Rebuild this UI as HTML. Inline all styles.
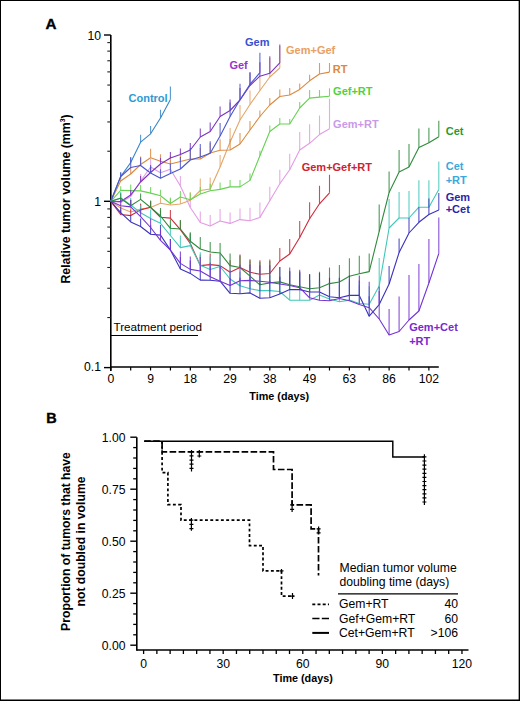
<!DOCTYPE html>
<html><head><meta charset="utf-8"><style>
html,body{margin:0;padding:0;background:#fff;}
body{width:520px;height:701px;overflow:hidden;position:relative;}
.frame{position:absolute;left:0;top:0;width:518px;height:699px;border:1px solid #000;}
svg{position:absolute;left:0;top:0;}
text{font-family:"Liberation Sans",sans-serif;}
</style></head><body>
<div class="frame"></div><div style="position:absolute;left:518px;top:0;width:1px;height:701px;background:#000;opacity:.35"></div><div style="position:absolute;left:0;top:699px;width:520px;height:1px;background:#000;opacity:.5"></div>
<svg width="520" height="701" viewBox="0 0 520 701">
<line x1="110.80" y1="35.00" x2="110.80" y2="371.00" stroke="#000" stroke-width="1.6" />
<line x1="104.00" y1="35.00" x2="110.80" y2="35.00" stroke="#000" stroke-width="1.4" />
<line x1="104.00" y1="201.30" x2="110.80" y2="201.30" stroke="#000" stroke-width="1.4" />
<line x1="104.00" y1="367.60" x2="110.80" y2="367.60" stroke="#000" stroke-width="1.4" />
<line x1="107.30" y1="317.54" x2="110.80" y2="317.54" stroke="#222" stroke-width="1.1" />
<line x1="107.30" y1="288.25" x2="110.80" y2="288.25" stroke="#222" stroke-width="1.1" />
<line x1="107.30" y1="267.48" x2="110.80" y2="267.48" stroke="#222" stroke-width="1.1" />
<line x1="107.30" y1="251.36" x2="110.80" y2="251.36" stroke="#222" stroke-width="1.1" />
<line x1="107.30" y1="238.19" x2="110.80" y2="238.19" stroke="#222" stroke-width="1.1" />
<line x1="107.30" y1="227.06" x2="110.80" y2="227.06" stroke="#222" stroke-width="1.1" />
<line x1="107.30" y1="217.42" x2="110.80" y2="217.42" stroke="#222" stroke-width="1.1" />
<line x1="107.30" y1="208.91" x2="110.80" y2="208.91" stroke="#222" stroke-width="1.1" />
<line x1="107.30" y1="151.24" x2="110.80" y2="151.24" stroke="#222" stroke-width="1.1" />
<line x1="107.30" y1="121.95" x2="110.80" y2="121.95" stroke="#222" stroke-width="1.1" />
<line x1="107.30" y1="101.18" x2="110.80" y2="101.18" stroke="#222" stroke-width="1.1" />
<line x1="107.30" y1="85.06" x2="110.80" y2="85.06" stroke="#222" stroke-width="1.1" />
<line x1="107.30" y1="71.89" x2="110.80" y2="71.89" stroke="#222" stroke-width="1.1" />
<line x1="107.30" y1="60.76" x2="110.80" y2="60.76" stroke="#222" stroke-width="1.1" />
<line x1="107.30" y1="51.12" x2="110.80" y2="51.12" stroke="#222" stroke-width="1.1" />
<line x1="107.30" y1="42.61" x2="110.80" y2="42.61" stroke="#222" stroke-width="1.1" />
<line x1="110.80" y1="367.00" x2="438.80" y2="367.00" stroke="#000" stroke-width="1.6" />
<line x1="110.80" y1="367.00" x2="110.80" y2="370.50" stroke="#000" stroke-width="1.2" />
<line x1="130.68" y1="367.00" x2="130.68" y2="370.50" stroke="#000" stroke-width="1.2" />
<line x1="150.56" y1="367.00" x2="150.56" y2="370.50" stroke="#000" stroke-width="1.2" />
<line x1="170.44" y1="367.00" x2="170.44" y2="370.50" stroke="#000" stroke-width="1.2" />
<line x1="190.32" y1="367.00" x2="190.32" y2="370.50" stroke="#000" stroke-width="1.2" />
<line x1="210.20" y1="367.00" x2="210.20" y2="370.50" stroke="#000" stroke-width="1.2" />
<line x1="230.08" y1="367.00" x2="230.08" y2="370.50" stroke="#000" stroke-width="1.2" />
<line x1="249.96" y1="367.00" x2="249.96" y2="370.50" stroke="#000" stroke-width="1.2" />
<line x1="269.84" y1="367.00" x2="269.84" y2="370.50" stroke="#000" stroke-width="1.2" />
<line x1="289.72" y1="367.00" x2="289.72" y2="370.50" stroke="#000" stroke-width="1.2" />
<line x1="309.60" y1="367.00" x2="309.60" y2="370.50" stroke="#000" stroke-width="1.2" />
<line x1="329.48" y1="367.00" x2="329.48" y2="370.50" stroke="#000" stroke-width="1.2" />
<line x1="349.36" y1="367.00" x2="349.36" y2="370.50" stroke="#000" stroke-width="1.2" />
<line x1="369.24" y1="367.00" x2="369.24" y2="370.50" stroke="#000" stroke-width="1.2" />
<line x1="389.12" y1="367.00" x2="389.12" y2="370.50" stroke="#000" stroke-width="1.2" />
<line x1="409.00" y1="367.00" x2="409.00" y2="370.50" stroke="#000" stroke-width="1.2" />
<line x1="428.88" y1="367.00" x2="428.88" y2="370.50" stroke="#000" stroke-width="1.2" />
<text x="110.80" y="383.00" font-size="12.2" text-anchor="middle" font-weight="normal" fill="#000" >0</text>
<text x="150.56" y="383.00" font-size="12.2" text-anchor="middle" font-weight="normal" fill="#000" >9</text>
<text x="190.32" y="383.00" font-size="12.2" text-anchor="middle" font-weight="normal" fill="#000" >18</text>
<text x="230.08" y="383.00" font-size="12.2" text-anchor="middle" font-weight="normal" fill="#000" >29</text>
<text x="269.84" y="383.00" font-size="12.2" text-anchor="middle" font-weight="normal" fill="#000" >38</text>
<text x="309.60" y="383.00" font-size="12.2" text-anchor="middle" font-weight="normal" fill="#000" >49</text>
<text x="349.36" y="383.00" font-size="12.2" text-anchor="middle" font-weight="normal" fill="#000" >63</text>
<text x="389.12" y="383.00" font-size="12.2" text-anchor="middle" font-weight="normal" fill="#000" >86</text>
<text x="428.88" y="383.00" font-size="12.2" text-anchor="middle" font-weight="normal" fill="#000" >102</text>
<text x="101.00" y="39.80" font-size="12.2" text-anchor="end" font-weight="normal" fill="#000" >10</text>
<text x="101.00" y="205.50" font-size="12.2" text-anchor="end" font-weight="normal" fill="#000" >1</text>
<text x="101.00" y="371.00" font-size="12.2" text-anchor="end" font-weight="normal" fill="#000" >0.1</text>
<text x="45.40" y="28.90" font-size="15.2" text-anchor="start" font-weight="bold" fill="#000" stroke="#000" stroke-width="0.4">A</text>
<text x="279.20" y="399.90" font-size="10.8" text-anchor="middle" font-weight="bold" fill="#000" >Time (days)</text>
<text x="0.00" y="0.00" font-size="12.3" text-anchor="middle" font-weight="bold" fill="#000" transform="translate(70.0,199) rotate(-90)">Relative tumor volume (mm<tspan dy="-5.5" font-size="6.8">3</tspan><tspan dy="5.5">)</tspan></text>
<text x="113.50" y="331.00" font-size="11.7" text-anchor="start" font-weight="normal" fill="#000" >Treatment period</text>
<line x1="110.80" y1="335.50" x2="198.00" y2="335.50" stroke="#000" stroke-width="1.2" />
<polyline points="110.8,201.3 120.7,202.5 130.7,196.5 140.6,181.0 150.6,167.0 160.5,172.7 170.4,169.2 180.4,186.0 190.3,207.5 200.3,222.5 210.2,226.0 220.1,221.0 230.1,223.4 240.0,219.6 250.0,220.8 259.9,217.4 269.8,200.8 279.8,183.8 289.7,169.8 299.7,150.0 309.6,143.3 319.5,134.6 329.5,128.8" fill="none" stroke="#e39be3" stroke-width="1.1" stroke-linejoin="round"/>
<path d="M120.7 202.5V198.5 M130.7 196.5V190.5 M140.6 181.0V174.0 M150.6 167.0V159.0 M160.5 172.7V164.7 M170.4 169.2V160.2 M180.4 186.0V176.0 M190.3 207.5V197.5 M200.3 222.5V211.5 M210.2 226.0V215.0 M220.1 221.0V209.0 M230.1 223.4V212.4 M240.0 219.6V208.6 M250.0 220.8V207.8 M259.9 217.4V202.4 M269.8 200.8V186.8 M279.8 183.8V169.8 M289.7 169.8V153.8 M299.7 150.0V132.0 M309.6 143.3V124.3 M319.5 134.6V115.6 M329.5 128.8V98.8" stroke="#e39be3" stroke-width="1.1" fill="none" opacity="0.85"/>
<polyline points="110.8,201.3 120.7,208.0 130.7,212.0 140.6,209.0 150.6,207.5 160.5,203.3 170.4,205.0 180.4,204.0 190.3,200.3 200.3,190.5 210.2,189.0 220.1,167.0 230.1,142.0 240.0,120.0 250.0,104.5 259.9,90.5 269.8,77.0 279.8,68.0" fill="none" stroke="#e3a66a" stroke-width="1.1" stroke-linejoin="round"/>
<path d="M120.7 208.0V204.0 M130.7 212.0V207.0 M140.6 209.0V203.0 M150.6 207.5V201.5 M160.5 203.3V197.3 M170.4 205.0V199.0 M180.4 204.0V197.0 M190.3 200.3V192.3 M200.3 190.5V178.5 M210.2 189.0V177.5 M220.1 167.0V155.0 M230.1 142.0V128.0 M240.0 120.0V105.0 M250.0 104.5V90.5 M259.9 90.5V76.5 M269.8 77.0V58.0 M279.8 68.0V46.0" stroke="#e3a66a" stroke-width="1.1" fill="none" opacity="0.85"/>
<polyline points="110.8,201.3 120.7,181.0 130.7,174.0 140.6,164.5 150.6,157.8 160.5,161.3 170.4,164.0 180.4,161.5 190.3,159.0 200.3,159.0 210.2,153.0 220.1,150.3 230.1,150.0 240.0,144.0 250.0,130.0 259.9,116.5 269.8,105.0 279.8,96.5 289.7,95.0 299.7,89.4 309.6,80.8 319.5,74.0 329.5,72.1" fill="none" stroke="#d98a40" stroke-width="1.1" stroke-linejoin="round"/>
<path d="M120.7 181.0V177.0 M130.7 174.0V168.0 M140.6 164.5V156.5 M150.6 157.8V148.8 M160.5 161.3V154.3 M170.4 164.0V156.0 M180.4 161.5V152.5 M190.3 159.0V149.0 M200.3 159.0V148.0 M210.2 153.0V143.0 M220.1 150.3V139.3 M230.1 150.0V139.0 M240.0 144.0V133.0 M250.0 130.0V121.0 M259.9 116.5V110.5 M269.8 105.0V98.0 M279.8 96.5V89.5 M289.7 95.0V88.0 M299.7 89.4V83.4 M309.6 80.8V74.8 M319.5 74.0V63.0 M329.5 72.1V63.1" stroke="#d98a40" stroke-width="1.1" fill="none" opacity="0.85"/>
<polyline points="110.8,201.3 120.7,190.3 130.7,190.6 140.6,190.9 150.6,193.1 160.5,195.7 170.4,203.5 180.4,197.0 190.3,199.7 200.3,194.0 210.2,190.7 220.1,189.4 230.1,186.9 240.0,186.9 250.0,180.4 259.9,155.7 269.8,131.5 279.8,124.0 289.7,124.0 299.7,108.0 309.6,98.1 319.5,97.1 329.5,96.2" fill="none" stroke="#66d252" stroke-width="1.1" stroke-linejoin="round"/>
<path d="M120.7 190.3V186.3 M130.7 190.6V184.6 M140.6 190.9V184.9 M150.6 193.1V187.1 M160.5 195.7V189.7 M170.4 203.5V197.5 M180.4 197.0V191.0 M190.3 199.7V192.7 M200.3 194.0V187.0 M210.2 190.7V183.7 M220.1 189.4V182.4 M230.1 186.9V179.9 M240.0 186.9V179.9 M250.0 180.4V173.4 M259.9 155.7V150.7 M269.8 131.5V125.5 M279.8 124.0V118.0 M289.7 124.0V119.0 M299.7 108.0V102.0 M309.6 98.1V90.1 M319.5 97.1V90.1 M329.5 96.2V88.2" stroke="#66d252" stroke-width="1.1" fill="none" opacity="0.85"/>
<polyline points="110.8,201.3 120.7,176.5 130.7,162.6 140.6,142.2 150.6,133.8 160.5,118.0 170.4,99.5" fill="none" stroke="#3a86c6" stroke-width="1.1" stroke-linejoin="round"/>
<path d="M120.7 176.5V172.2 M130.7 162.6V157.0 M140.6 142.2V134.7 M150.6 133.8V126.0 M160.5 118.0V109.7 M170.4 99.5V86.5" stroke="#3a86c6" stroke-width="1.1" fill="none" opacity="0.85"/>
<polyline points="110.8,201.3 120.7,201.5 130.7,195.0 140.6,182.0 150.6,172.5 160.5,164.0 170.4,158.0 180.4,154.5 190.3,150.0 200.3,137.0 210.2,131.5 220.1,116.5 230.1,110.5 240.0,100.0 250.0,85.5 259.9,76.2 269.8,73.3 279.8,62.9" fill="none" stroke="#7a32bf" stroke-width="1.1" stroke-linejoin="round"/>
<path d="M120.7 201.5V197.5 M130.7 195.0V190.0 M140.6 182.0V176.0 M150.6 172.5V166.5 M160.5 164.0V158.0 M170.4 158.0V152.0 M180.4 154.5V148.5 M190.3 150.0V143.0 M200.3 137.0V128.5 M210.2 131.5V122.5 M220.1 116.5V106.5 M230.1 110.5V99.5 M240.0 100.0V88.0 M250.0 85.5V72.5 M259.9 76.2V62.2 M269.8 73.3V56.3 M279.8 62.9V44.4" stroke="#7a32bf" stroke-width="1.1" fill="none" opacity="0.85"/>
<polyline points="110.8,201.3 120.7,176.5 130.7,167.5 140.6,165.5 150.6,173.0 160.5,178.3 170.4,173.5 180.4,169.0 190.3,160.0 200.3,157.0 210.2,153.3 220.1,136.0 230.1,116.5 240.0,99.8 250.0,84.2 259.9,72.7" fill="none" stroke="#4a54cc" stroke-width="1.1" stroke-linejoin="round"/>
<path d="M120.7 176.5V172.5 M130.7 167.5V157.5 M140.6 165.5V157.5 M150.6 173.0V165.0 M160.5 178.3V169.3 M170.4 173.5V163.5 M180.4 169.0V157.0 M190.3 160.0V148.0 M200.3 157.0V144.0 M210.2 153.3V141.3 M220.1 136.0V123.0 M230.1 116.5V102.5 M240.0 99.8V83.8 M250.0 84.2V72.2 M259.9 72.7V52.7" stroke="#4a54cc" stroke-width="1.1" fill="none" opacity="0.85"/>
<polyline points="110.8,201.3 120.7,214.5 130.7,215.6 140.6,209.9 150.6,207.3 160.5,217.3 170.4,218.1 180.4,229.6 190.3,243.5 200.3,265.6 210.2,264.6 220.1,265.6 230.1,272.3 240.0,267.5 250.0,272.3 259.9,274.2 269.8,273.5 279.8,261.0 289.7,254.0 299.7,237.5 309.6,218.7 319.5,203.8 329.5,192.8" fill="none" stroke="#cc2a3c" stroke-width="1.1" stroke-linejoin="round"/>
<path d="M120.7 214.5V209.5 M130.7 215.6V209.6 M140.6 209.9V203.9 M150.6 207.3V201.3 M160.5 217.3V210.3 M170.4 218.1V210.1 M180.4 229.6V220.6 M190.3 243.5V233.5 M200.3 265.6V254.6 M210.2 264.6V253.6 M220.1 265.6V253.6 M230.1 272.3V260.3 M240.0 267.5V254.5 M250.0 272.3V259.3 M259.9 274.2V260.2 M269.8 273.5V259.5 M279.8 261.0V248.0 M289.7 254.0V239.0 M299.7 237.5V221.0 M309.6 218.7V202.2 M319.5 203.8V185.8 M329.5 192.8V174.8" stroke="#cc2a3c" stroke-width="1.1" fill="none" opacity="0.85"/>
<polyline points="110.8,201.3 120.7,198.0 130.7,205.0 140.6,212.7 150.6,218.4 160.5,223.3 170.4,235.5 180.4,247.6 190.3,245.6 200.3,265.2 210.2,269.5 220.1,266.5 230.1,279.0 240.0,285.8 250.0,288.7 259.9,290.6 269.8,290.6 279.8,291.5 289.7,300.2 299.7,300.2 309.6,300.2 319.5,295.0 329.5,299.0 339.4,301.8 349.4,300.1 359.3,303.5 369.2,304.3 379.2,286.0 389.1,228.0 399.1,218.0 409.0,218.0 418.9,207.2 428.9,207.2 438.8,189.6" fill="none" stroke="#40c8b8" stroke-width="1.1" stroke-linejoin="round"/>
<path d="M120.7 198.0V192.0 M130.7 205.0V198.0 M140.6 212.7V204.7 M150.6 218.4V209.4 M160.5 223.3V213.3 M170.4 235.5V224.5 M180.4 247.6V235.6 M190.3 245.6V233.6 M200.3 265.2V252.2 M210.2 269.5V256.5 M220.1 266.5V253.5 M230.1 279.0V265.0 M240.0 285.8V271.8 M250.0 288.7V273.7 M259.9 290.6V275.6 M269.8 290.6V275.6 M279.8 291.5V276.5 M289.7 300.2V285.2 M299.7 300.2V284.2 M309.6 300.2V284.2 M319.5 295.0V279.0 M329.5 299.0V282.0 M339.4 301.8V284.8 M349.4 300.1V282.1 M359.3 303.5V285.5 M369.2 304.3V286.3 M379.2 286.0V258.0 M389.1 228.0V199.0 M399.1 218.0V192.0 M409.0 218.0V191.0 M418.9 207.2V180.2 M428.9 207.2V180.2 M438.8 189.6V161.6" stroke="#40c8b8" stroke-width="1.1" fill="none" opacity="0.85"/>
<polyline points="110.8,201.3 120.7,198.3 130.7,205.8 140.6,199.4 150.6,207.5 160.5,216.0 170.4,228.3 180.4,229.0 190.3,241.3 200.3,249.0 210.2,252.0 220.1,253.0 230.1,265.6 240.0,267.5 250.0,276.2 259.9,284.8 269.8,282.9 279.8,281.9 289.7,284.8 299.7,286.7 309.6,288.7 319.5,287.7 329.5,283.6 339.4,282.0 349.4,276.2 359.3,273.8 369.2,271.6 379.2,231.4 389.1,192.5 399.1,171.9 409.0,167.0 418.9,147.6 428.9,142.8 438.8,136.7" fill="none" stroke="#2f8a3c" stroke-width="1.1" stroke-linejoin="round"/>
<path d="M120.7 198.3V193.3 M130.7 205.8V199.8 M140.6 199.4V193.4 M150.6 207.5V200.5 M160.5 216.0V208.0 M170.4 228.3V219.3 M180.4 229.0V220.0 M190.3 241.3V232.3 M200.3 249.0V237.0 M210.2 252.0V242.0 M220.1 253.0V243.0 M230.1 265.6V253.6 M240.0 267.5V255.5 M250.0 276.2V260.2 M259.9 284.8V261.8 M269.8 282.9V260.9 M279.8 281.9V266.9 M289.7 284.8V270.8 M299.7 286.7V272.7 M309.6 288.7V274.7 M319.5 287.7V271.7 M329.5 283.6V267.6 M339.4 282.0V265.0 M349.4 276.2V258.2 M359.3 273.8V255.8 M369.2 271.6V253.6 M379.2 231.4V204.4 M389.1 192.5V171.5 M399.1 171.9V149.9 M409.0 167.0V144.0 M418.9 147.6V128.6 M428.9 142.8V127.8 M438.8 136.7V120.7" stroke="#2f8a3c" stroke-width="1.1" fill="none" opacity="0.85"/>
<polyline points="110.8,201.3 120.7,212.7 130.7,221.9 140.6,226.5 150.6,234.3 160.5,235.1 170.4,250.0 180.4,268.9 190.3,273.4 200.3,280.1 210.2,280.2 220.1,281.2 230.1,293.3 240.0,293.7 250.0,292.9 259.9,298.2 269.8,297.7 279.8,294.0 289.7,289.6 299.7,289.6 309.6,292.0 319.5,292.0 329.5,296.8 339.4,297.7 349.4,295.4 359.3,295.4 369.2,316.2 379.2,304.6 389.1,284.0 399.1,252.5 409.0,233.0 418.9,222.3 428.9,214.5 438.8,210.0" fill="none" stroke="#3a32bc" stroke-width="1.1" stroke-linejoin="round"/>
<path d="M120.7 212.7V206.7 M130.7 221.9V214.9 M140.6 226.5V218.5 M150.6 234.3V225.3 M160.5 235.1V225.1 M170.4 250.0V239.0 M180.4 268.9V256.9 M190.3 273.4V260.4 M200.3 280.1V266.1 M210.2 280.2V266.2 M220.1 281.2V266.2 M230.1 293.3V278.3 M240.0 293.7V277.7 M250.0 292.9V276.9 M259.9 298.2V282.2 M269.8 297.7V280.7 M279.8 294.0V277.0 M289.7 289.6V271.6 M299.7 289.6V271.6 M309.6 292.0V274.0 M319.5 292.0V273.0 M329.5 296.8V277.8 M339.4 297.7V277.7 M349.4 295.4V275.4 M359.3 295.4V275.4 M369.2 316.2V296.2 M379.2 304.6V286.6 M389.1 284.0V266.0 M399.1 252.5V238.5 M409.0 233.0V218.0 M418.9 222.3V207.3 M428.9 214.5V198.5 M438.8 210.0V193.0" stroke="#3a32bc" stroke-width="1.1" fill="none" opacity="0.85"/>
<polyline points="110.8,201.3 120.7,205.8 130.7,206.9 140.6,216.7 150.6,227.5 160.5,240.3 170.4,250.0 180.4,263.4 190.3,269.4 200.3,271.0 210.2,276.8 220.1,281.3 230.1,285.5 240.0,280.8 250.0,280.4 259.9,281.3 269.8,282.3 279.8,284.0 289.7,285.5 299.7,287.7 309.6,297.8 319.5,300.2 329.5,300.7 339.4,298.5 349.4,300.8 359.3,304.6 369.2,307.7 379.2,319.0 389.1,335.0 399.1,331.5 409.0,320.0 418.9,311.0 428.9,283.0 438.8,253.5" fill="none" stroke="#7434d0" stroke-width="1.1" stroke-linejoin="round"/>
<path d="M120.7 205.8V199.8 M130.7 206.9V199.9 M140.6 216.7V208.7 M150.6 227.5V218.5 M160.5 240.3V230.3 M170.4 250.0V239.0 M180.4 263.4V251.4 M190.3 269.4V256.4 M200.3 271.0V257.0 M210.2 276.8V262.8 M220.1 281.3V266.3 M230.1 285.5V270.5 M240.0 280.8V264.8 M250.0 280.4V264.4 M259.9 281.3V265.3 M269.8 282.3V265.3 M279.8 284.0V267.0 M289.7 285.5V267.5 M299.7 287.7V269.7 M309.6 297.8V279.8 M319.5 300.2V281.2 M329.5 300.7V281.7 M339.4 298.5V278.5 M349.4 300.8V278.8 M359.3 304.6V280.6 M369.2 307.7V281.7 M379.2 319.0V291.0 M389.1 335.0V309.0 M399.1 331.5V296.5 M409.0 320.0V275.0 M418.9 311.0V264.0 M428.9 283.0V239.0 M438.8 253.5V217.5" stroke="#7434d0" stroke-width="1.1" fill="none" opacity="0.85"/>
<text x="128.50" y="101.70" font-size="11" text-anchor="start" font-weight="bold" fill="#2b9ad3" >Control</text>
<text x="245.00" y="45.80" font-size="11" text-anchor="start" font-weight="bold" fill="#3a4fcf" >Gem</text>
<text x="286.00" y="53.70" font-size="11" text-anchor="start" font-weight="bold" fill="#e9a062" >Gem+Gef</text>
<text x="229.40" y="69.00" font-size="11" text-anchor="start" font-weight="bold" fill="#9a33cc" >Gef</text>
<text x="332.70" y="72.60" font-size="11" text-anchor="start" font-weight="bold" fill="#df8835" >RT</text>
<text x="333.10" y="94.60" font-size="11" text-anchor="start" font-weight="bold" fill="#4fd23a" >Gef+RT</text>
<text x="333.10" y="127.50" font-size="11" text-anchor="start" font-weight="bold" fill="#c89ae8" >Gem+RT</text>
<text x="301.70" y="171.30" font-size="11" text-anchor="start" font-weight="bold" fill="#cf2230" >Gem+Gef+RT</text>
<text x="445.70" y="135.40" font-size="11" text-anchor="start" font-weight="bold" fill="#2a9a30" >Cet</text>
<text x="445.70" y="169.60" font-size="11" text-anchor="start" font-weight="bold" fill="#3aa8dc" >Cet</text>
<text x="445.70" y="183.50" font-size="11" text-anchor="start" font-weight="bold" fill="#3aa8dc" >+RT</text>
<text x="445.70" y="201.30" font-size="11" text-anchor="start" font-weight="bold" fill="#2a25aa" >Gem</text>
<text x="445.70" y="213.00" font-size="11" text-anchor="start" font-weight="bold" fill="#2a25aa" >+Cet</text>
<text x="409.20" y="331.30" font-size="11" text-anchor="start" font-weight="bold" fill="#7a28cf" >Gem+Cet</text>
<text x="409.20" y="345.40" font-size="11" text-anchor="start" font-weight="bold" fill="#7a28cf" >+RT</text>
<line x1="136.80" y1="437.20" x2="136.80" y2="650.80" stroke="#000" stroke-width="1.6" />
<line x1="130.30" y1="645.20" x2="136.80" y2="645.20" stroke="#000" stroke-width="1.4" />
<line x1="133.20" y1="634.80" x2="136.80" y2="634.80" stroke="#000" stroke-width="1.3" />
<line x1="133.20" y1="624.40" x2="136.80" y2="624.40" stroke="#000" stroke-width="1.3" />
<line x1="133.20" y1="614.00" x2="136.80" y2="614.00" stroke="#000" stroke-width="1.3" />
<line x1="133.20" y1="603.60" x2="136.80" y2="603.60" stroke="#000" stroke-width="1.3" />
<line x1="130.30" y1="593.20" x2="136.80" y2="593.20" stroke="#000" stroke-width="1.4" />
<line x1="133.20" y1="582.80" x2="136.80" y2="582.80" stroke="#000" stroke-width="1.3" />
<line x1="133.20" y1="572.40" x2="136.80" y2="572.40" stroke="#000" stroke-width="1.3" />
<line x1="133.20" y1="562.00" x2="136.80" y2="562.00" stroke="#000" stroke-width="1.3" />
<line x1="133.20" y1="551.60" x2="136.80" y2="551.60" stroke="#000" stroke-width="1.3" />
<line x1="130.30" y1="541.20" x2="136.80" y2="541.20" stroke="#000" stroke-width="1.4" />
<line x1="133.20" y1="530.80" x2="136.80" y2="530.80" stroke="#000" stroke-width="1.3" />
<line x1="133.20" y1="520.40" x2="136.80" y2="520.40" stroke="#000" stroke-width="1.3" />
<line x1="133.20" y1="510.00" x2="136.80" y2="510.00" stroke="#000" stroke-width="1.3" />
<line x1="133.20" y1="499.60" x2="136.80" y2="499.60" stroke="#000" stroke-width="1.3" />
<line x1="130.30" y1="489.20" x2="136.80" y2="489.20" stroke="#000" stroke-width="1.4" />
<line x1="133.20" y1="478.80" x2="136.80" y2="478.80" stroke="#000" stroke-width="1.3" />
<line x1="133.20" y1="468.40" x2="136.80" y2="468.40" stroke="#000" stroke-width="1.3" />
<line x1="133.20" y1="458.00" x2="136.80" y2="458.00" stroke="#000" stroke-width="1.3" />
<line x1="133.20" y1="447.60" x2="136.80" y2="447.60" stroke="#000" stroke-width="1.3" />
<line x1="130.30" y1="437.20" x2="136.80" y2="437.20" stroke="#000" stroke-width="1.4" />
<line x1="136.80" y1="650.00" x2="468.50" y2="650.00" stroke="#000" stroke-width="1.6" />
<line x1="143.60" y1="650.00" x2="143.60" y2="654.00" stroke="#000" stroke-width="1.3" />
<line x1="156.87" y1="650.00" x2="156.87" y2="654.00" stroke="#000" stroke-width="1.3" />
<line x1="170.13" y1="650.00" x2="170.13" y2="654.00" stroke="#000" stroke-width="1.3" />
<line x1="183.39" y1="650.00" x2="183.39" y2="654.00" stroke="#000" stroke-width="1.3" />
<line x1="196.66" y1="650.00" x2="196.66" y2="654.00" stroke="#000" stroke-width="1.3" />
<line x1="209.93" y1="650.00" x2="209.93" y2="654.00" stroke="#000" stroke-width="1.3" />
<line x1="223.19" y1="650.00" x2="223.19" y2="654.00" stroke="#000" stroke-width="1.3" />
<line x1="236.45" y1="650.00" x2="236.45" y2="654.00" stroke="#000" stroke-width="1.3" />
<line x1="249.72" y1="650.00" x2="249.72" y2="654.00" stroke="#000" stroke-width="1.3" />
<line x1="262.99" y1="650.00" x2="262.99" y2="654.00" stroke="#000" stroke-width="1.3" />
<line x1="276.25" y1="650.00" x2="276.25" y2="654.00" stroke="#000" stroke-width="1.3" />
<line x1="289.51" y1="650.00" x2="289.51" y2="654.00" stroke="#000" stroke-width="1.3" />
<line x1="302.78" y1="650.00" x2="302.78" y2="654.00" stroke="#000" stroke-width="1.3" />
<line x1="316.04" y1="650.00" x2="316.04" y2="654.00" stroke="#000" stroke-width="1.3" />
<line x1="329.31" y1="650.00" x2="329.31" y2="654.00" stroke="#000" stroke-width="1.3" />
<line x1="342.57" y1="650.00" x2="342.57" y2="654.00" stroke="#000" stroke-width="1.3" />
<line x1="355.84" y1="650.00" x2="355.84" y2="654.00" stroke="#000" stroke-width="1.3" />
<line x1="369.11" y1="650.00" x2="369.11" y2="654.00" stroke="#000" stroke-width="1.3" />
<line x1="382.37" y1="650.00" x2="382.37" y2="654.00" stroke="#000" stroke-width="1.3" />
<line x1="395.63" y1="650.00" x2="395.63" y2="654.00" stroke="#000" stroke-width="1.3" />
<line x1="408.90" y1="650.00" x2="408.90" y2="654.00" stroke="#000" stroke-width="1.3" />
<line x1="422.16" y1="650.00" x2="422.16" y2="654.00" stroke="#000" stroke-width="1.3" />
<line x1="435.43" y1="650.00" x2="435.43" y2="654.00" stroke="#000" stroke-width="1.3" />
<line x1="448.70" y1="650.00" x2="448.70" y2="654.00" stroke="#000" stroke-width="1.3" />
<line x1="461.96" y1="650.00" x2="461.96" y2="654.00" stroke="#000" stroke-width="1.3" />
<text x="143.60" y="668.00" font-size="12.2" text-anchor="middle" font-weight="normal" fill="#000" >0</text>
<text x="223.19" y="668.00" font-size="12.2" text-anchor="middle" font-weight="normal" fill="#000" >30</text>
<text x="302.78" y="668.00" font-size="12.2" text-anchor="middle" font-weight="normal" fill="#000" >60</text>
<text x="382.37" y="668.00" font-size="12.2" text-anchor="middle" font-weight="normal" fill="#000" >90</text>
<text x="461.96" y="668.00" font-size="12.2" text-anchor="middle" font-weight="normal" fill="#000" >120</text>
<text x="125.50" y="441.60" font-size="12.2" text-anchor="end" font-weight="normal" fill="#000" >1.00</text>
<text x="125.50" y="493.60" font-size="12.2" text-anchor="end" font-weight="normal" fill="#000" >0.75</text>
<text x="125.50" y="545.60" font-size="12.2" text-anchor="end" font-weight="normal" fill="#000" >0.50</text>
<text x="125.50" y="597.60" font-size="12.2" text-anchor="end" font-weight="normal" fill="#000" >0.25</text>
<text x="125.50" y="649.60" font-size="12.2" text-anchor="end" font-weight="normal" fill="#000" >0.00</text>
<text x="46.20" y="422.80" font-size="14.4" text-anchor="start" font-weight="bold" fill="#000" stroke="#000" stroke-width="0.4">B</text>
<text x="302.90" y="681.90" font-size="10.8" text-anchor="middle" font-weight="bold" fill="#000" >Time (days)</text>
<text x="0.00" y="0.00" font-size="12.2" text-anchor="middle" font-weight="bold" fill="#000" transform="translate(70.4,541.5) rotate(-90)">Proportion of tumors that have</text>
<text x="0.00" y="0.00" font-size="12.2" text-anchor="middle" font-weight="bold" fill="#000" transform="translate(85.3,541.5) rotate(-90)">not doubled in volume</text>
<path d="M144.2 441.2H392.8V456.9H424.4" stroke="#000" stroke-width="1.45" fill="none"/>
<path d="M144.2 441.2H162.1V451.8H273.5V469.5H292.1V504.9H311.1V528.8H318.5V575.5" stroke="#000" stroke-width="1.7" fill="none" stroke-dasharray="6.6,2.4"/>
<path d="M162.1 441.2V472.6H167.9V504.6H181V520.2H249.5V545.6H263V570.9H281.5V596.2H294.2" stroke="#000" stroke-width="1.7" fill="none" stroke-dasharray="2.9,2.4"/>
<path d="M424.4 454.2V505.0M422.4 456.9H426.4M422.4 461.0H426.4M422.4 465.1H426.4M422.4 469.2H426.4M422.4 473.3H426.4M422.4 477.4H426.4M422.4 481.5H426.4M422.4 485.6H426.4M422.4 489.7H426.4M422.4 493.8H426.4M422.4 497.9H426.4M422.4 502.0H426.4" stroke="#000" stroke-width="1.2" fill="none"/>
<path d="M191.5 450.0V471.4M189.5 451.8H193.5M189.5 455.9H193.5M189.5 460.1H193.5M189.5 464.2H193.5M189.5 468.4H193.5" stroke="#000" stroke-width="1.2" fill="none"/>
<path d="M199.3 450.0V457.6M197.3 451.8H201.3M197.3 456.0H201.3" stroke="#000" stroke-width="1.2" fill="none"/>
<path d="M292.1 500.0V512.0M290.1 504.9H294.1M290.1 509.4H294.1" stroke="#000" stroke-width="1.2" fill="none"/>
<path d="M318.6 526.6V533.7M316.6 528.8H320.6M316.6 532.8H320.6" stroke="#000" stroke-width="1.2" fill="none"/>
<path d="M191.4 518.0V530.7M189.4 520.2H193.4M189.4 524.4H193.4M189.4 528.6H193.4" stroke="#000" stroke-width="1.2" fill="none"/>
<path d="M281.5 569.0V573.5M279.5 570.9H283.5" stroke="#000" stroke-width="1.2" fill="none"/>
<path d="M292.5 593.0V599.0M290.5 596.2H294.5" stroke="#000" stroke-width="1.2" fill="none"/>
<text x="339.50" y="572.30" font-size="12.2" text-anchor="start" font-weight="normal" fill="#000" >Median tumor volume</text>
<text x="339.50" y="586.30" font-size="12.2" text-anchor="start" font-weight="normal" fill="#000" >doubling time (days)</text>
<line x1="338.00" y1="593.80" x2="458.00" y2="593.80" stroke="#000" stroke-width="1.2" />
<text x="339.00" y="608.00" font-size="12.2" text-anchor="start" font-weight="normal" fill="#000" >Gem+RT</text>
<text x="458.00" y="608.00" font-size="12.2" text-anchor="end" font-weight="normal" fill="#000" >40</text>
<text x="339.00" y="622.70" font-size="12.2" text-anchor="start" font-weight="normal" fill="#000" >Gef+Gem+RT</text>
<text x="458.00" y="622.70" font-size="12.2" text-anchor="end" font-weight="normal" fill="#000" >60</text>
<text x="339.00" y="637.40" font-size="12.2" text-anchor="start" font-weight="normal" fill="#000" >Cet+Gem+RT</text>
<text x="458.00" y="637.40" font-size="12.2" text-anchor="end" font-weight="normal" fill="#000" >&gt;106</text>
<line x1="312.30" y1="604.40" x2="329.00" y2="604.40" stroke="#000" stroke-width="1.6" stroke-dasharray="3,2.2"/>
<line x1="312.30" y1="618.50" x2="329.00" y2="618.50" stroke="#000" stroke-width="1.6" stroke-dasharray="7.2,2.3"/>
<line x1="312.30" y1="632.90" x2="329.00" y2="632.90" stroke="#000" stroke-width="2" />
</svg>
</body></html>
